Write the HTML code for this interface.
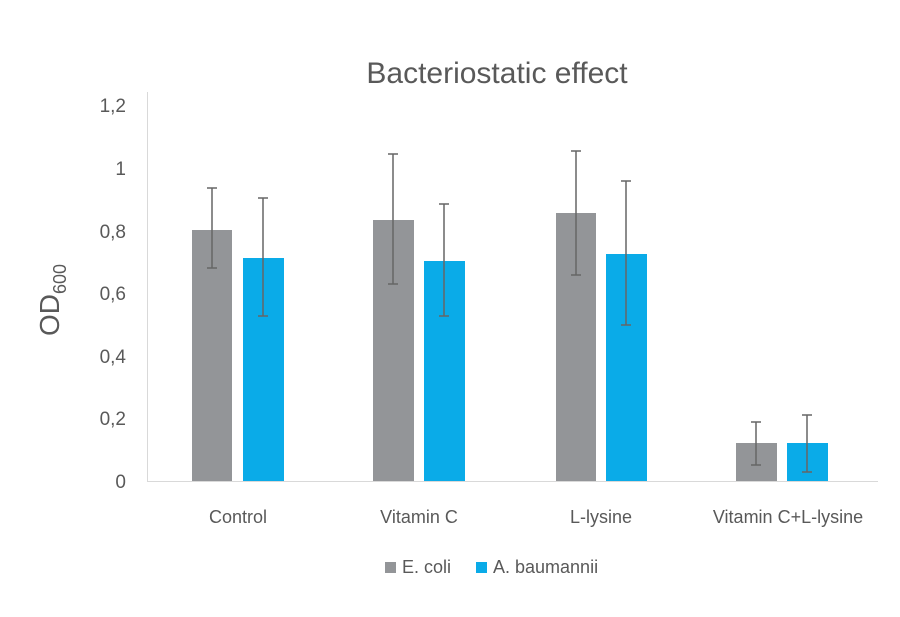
<!DOCTYPE html>
<html><head><style>body{margin:0;background:#fff}</style></head><body>
<svg width="900" height="612" xmlns="http://www.w3.org/2000/svg" font-family="Liberation Sans, sans-serif">
<rect width="900" height="612" fill="#fff"/>
<text x="497" y="83" text-anchor="middle" font-size="30" fill="#595959">Bacteriostatic effect</text>
<line x1="147.5" y1="92" x2="147.5" y2="481" stroke="#d9d9d9"/>
<line x1="147" y1="481.5" x2="878" y2="481.5" stroke="#d9d9d9"/>
<g font-size="19" fill="#595959" text-anchor="end">
<text x="126" y="488">0</text><text x="126" y="425">0,2</text><text x="126" y="363">0,4</text>
<text x="126" y="300">0,6</text><text x="126" y="238">0,8</text><text x="126" y="175">1</text><text x="126" y="112">1,2</text>
</g>
<text transform="translate(59,300) rotate(-90)" text-anchor="middle" font-size="28" fill="#595959">OD<tspan font-size="18" dy="7">600</tspan></text>
<g fill="#939598">
<rect x="192" y="230" width="40" height="251"/><rect x="373" y="220" width="41" height="261"/>
<rect x="556" y="213" width="40" height="268"/><rect x="736" y="443" width="41" height="38"/>
</g>
<g fill="#0aabe8">
<rect x="243" y="258" width="41" height="223"/><rect x="424" y="261" width="41" height="220"/>
<rect x="606" y="254" width="41" height="227"/><rect x="787" y="443" width="41" height="38"/>
</g>
<g stroke="#666" stroke-width="1.5">
<path d="M212 188V268M207 188H217M207 268H217"/>
<path d="M263 198V316M258 198H268M258 316H268"/>
<path d="M393 154V284M388 154H398M388 284H398"/>
<path d="M444 204V316M439 204H449M439 316H449"/>
<path d="M576 151V275M571 151H581M571 275H581"/>
<path d="M626 181V325M621 181H631M621 325H631"/>
<path d="M756 422V465M751 422H761M751 465H761"/>
<path d="M807 415V472M802 415H812M802 472H812"/>
</g>
<g font-size="18" fill="#595959" text-anchor="middle">
<text x="238" y="523">Control</text><text x="419" y="523">Vitamin C</text>
<text x="601" y="523">L-lysine</text><text x="788" y="523">Vitamin C+L-lysine</text>
</g>
<rect x="385" y="562" width="11" height="11" fill="#939598"/>
<text x="402" y="573" font-size="18" fill="#595959">E. coli</text>
<rect x="476" y="562" width="11" height="11" fill="#0aabe8"/>
<text x="493" y="573" font-size="18" fill="#595959">A. baumannii</text>
</svg>
</body></html>
